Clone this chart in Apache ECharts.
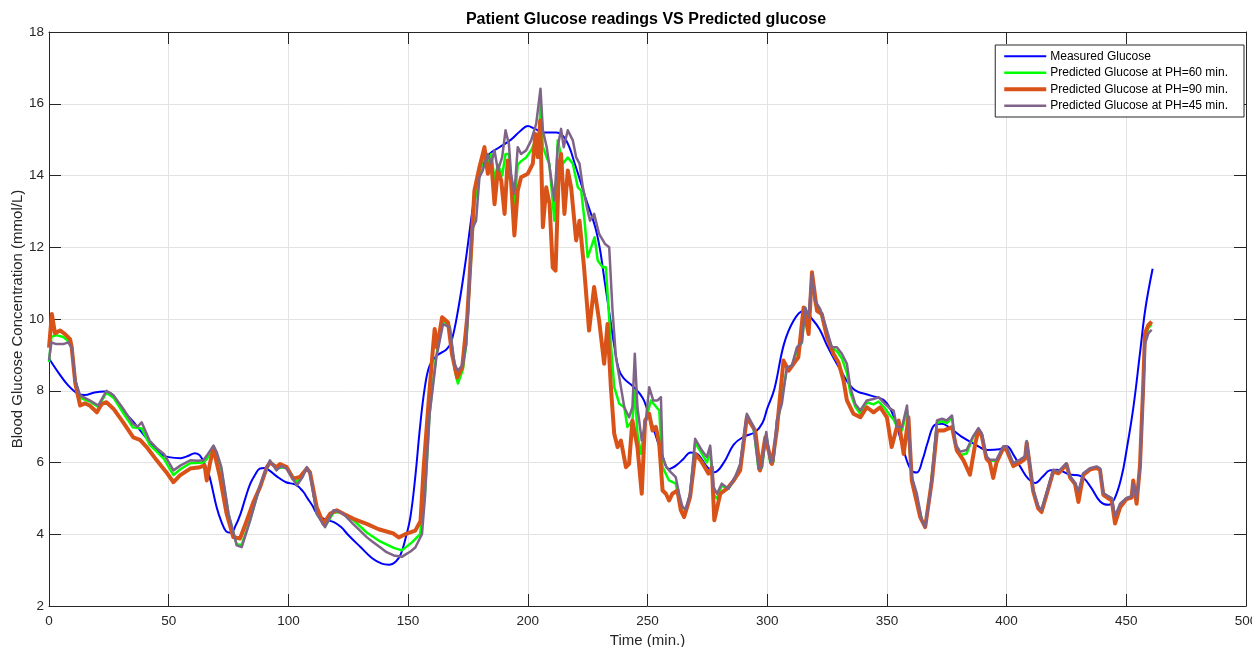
<!DOCTYPE html>
<html>
<head>
<meta charset="utf-8">
<title>Patient Glucose readings VS Predicted glucose</title>
<script src="https://cdn.jsdelivr.net/npm/echarts@6/dist/echarts.min.js"></script>
<style>
    html, body { margin: 0; padding: 0; background: #fff; overflow: hidden; }
    #main { width: 1252px; height: 647px; }
</style>
</head>
<body>
<div id="main"></div>
<script>
// [time (min.), glucose (mmol/L)]
var measured = [[0,8.9],[4,8.5],[8,8.15],[12,7.92],[15,7.88],[19,7.95],[23,7.98],[26,7.92],[29,7.65],[31,7.45],[35,7.15],[38,6.9],[41,6.65],[44,6.4],[47,6.22],[50,6.15],[55,6.12],[58,6.18],[61,6.26],[63,6.2],[65,5.95],[67,5.62],[70,4.76],[72,4.35],[74,4.08],[76,4.04],[78,4.25],[80,4.57],[82,5.0],[84,5.4],[86,5.65],[88,5.83],[90,5.85],[92,5.78],[95,5.62],[99,5.45],[103,5.38],[106,5.2],[108,5.0],[110,4.8],[112,4.57],[115,4.42],[119,4.34],[122,4.2],[125,3.98],[130,3.65],[135,3.33],[139,3.18],[142,3.15],[145,3.25],[147,3.45],[149,3.9],[151,4.5],[153,5.6],[155,7.0],[157,8.1],[159,8.7],[162,8.98],[166,9.15],[168,9.35],[171,10.3],[174,11.6],[177,13.1],[179,13.9],[181,14.3],[184,14.6],[188,14.78],[193,15.0],[197,15.25],[200,15.38],[203,15.3],[207,15.2],[212,15.2],[216,14.98],[220,14.25],[224,13.4],[228,12.6],[230,12.0],[232,11.1],[234,10.2],[236,9.3],[238,8.6],[240,8.35],[244,8.12],[248,7.8],[250,7.45],[252,7.05],[256,6.25],[259,5.82],[262,5.92],[265,6.1],[268,6.28],[271,6.23],[275,5.87],[278,5.73],[282,6.01],[286,6.5],[290,6.71],[295,6.85],[298,7.1],[300,7.5],[303,8.05],[307,9.3],[311,9.95],[315,10.22],[319,9.98],[322,9.7],[325,9.26],[330,8.65],[336,8.05],[343,7.87],[349,7.72],[353,7.25],[357,6.34],[360,5.8],[362.5,5.72],[365,6.1],[367,6.55],[370,7.05],[373,7.08],[376,6.98],[381,6.73],[387,6.5],[392,6.35],[397,6.37],[400,6.45],[403,6.2],[406,5.85],[409,5.55],[412,5.43],[415,5.6],[418,5.78],[421,5.8],[426,5.67],[431,5.62],[435,5.33],[439,4.92],[442.5,4.82],[445,4.98],[448,5.6],[450,6.3],[453,7.56],[455.7,9.04],[458,10.3],[461,11.4]];

var predicted60 = [[0,8.8],[1,9.5],[3,9.55],[6,9.5],[9.5,9.3],[11,8.28],[13,7.8],[17,7.7],[20.6,7.55],[24,7.95],[27,7.8],[31,7.38],[35,6.98],[38.7,6.95],[42,6.5],[45,6.3],[48,6.1],[52,5.65],[55,5.82],[59,5.98],[64.5,6.0],[66,6.1],[68.7,6.45],[72,5.8],[75,4.55],[78.4,3.72],[80.5,3.7],[84,4.4],[88,5.32],[92.3,6.03],[95,5.85],[99.3,5.87],[103.5,5.45],[107.7,5.85],[109,5.75],[111.8,4.6],[115.3,4.22],[118.8,4.6],[121.6,4.62],[127,4.4],[132.7,4.05],[138.3,3.8],[144,3.62],[147.4,3.55],[151.7,3.78],[155,4.0],[157,5.1],[159,7.4],[161.8,9.0],[164.6,9.95],[167.4,9.8],[169.4,8.6],[170.8,8.2],[172.9,8.6],[174.3,9.3],[175.6,10.9],[177.7,13.2],[179.8,14.0],[181.5,14.5],[183.3,14.3],[184.7,14.6],[186.1,13.9],[187.5,14.3],[189.3,14.0],[190.7,14.6],[192.1,14.6],[193,13.9],[194.4,13.2],[195.8,14.3],[197.2,14.4],[199.3,14.5],[201.4,14.7],[203.5,15.0],[204.5,14.6],[205.3,16.0],[206.3,14.8],[207.9,14.5],[209,14.33],[211.1,12.74],[212.5,14.98],[214.6,14.33],[216.7,14.5],[218.8,14.33],[220.9,13.67],[222.3,13.58],[223.7,12.74],[225,11.72],[227.9,12.28],[229.2,11.63],[231.3,11.44],[232.6,11.44],[234.7,9.31],[236.1,8.1],[238.2,7.64],[240.3,7.54],[241.6,6.99],[243.7,7.17],[244.7,8.0],[245.8,6.8],[247.2,6.24],[249.3,7.17],[251.4,7.73],[254.9,7.45],[256.3,5.87],[259,5.5],[261.8,5.41],[263.2,4.94],[266,4.6],[267.8,5.1],[269.9,6.55],[272.7,6.25],[274.8,6.0],[276.2,6.3],[277.6,5.1],[279,5.0],[281,5.35],[283.8,5.27],[286.6,5.55],[288.7,5.9],[291.5,7.3],[294.3,6.95],[296.4,5.8],[297.8,5.85],[299.6,6.8],[301.3,5.98],[302.6,6.02],[304,7.0],[306.1,7.8],[308.2,8.6],[310.3,8.7],[312.4,9.1],[314.5,9.35],[315.9,10.3],[317.3,9.9],[318.7,11.1],[320,10.4],[322.1,10.25],[324.2,9.7],[327,9.2],[329.1,9.1],[331.2,8.9],[333.3,8.5],[334.7,7.95],[336.8,7.55],[338.9,7.35],[341.6,7.68],[344.4,7.62],[346.5,7.7],[349.3,7.5],[351.4,7.3],[352.8,7.2],[354.2,7.0],[356.3,6.9],[358.4,7.45],[360.4,5.55],[362.5,5.0],[364.6,4.4],[366,4.22],[368.1,5.2],[369.5,6.1],[370.9,7.1],[373,7.15],[375,7.1],[377.2,7.25],[378.6,6.45],[380.6,6.2],[383.3,6.25],[386,6.7],[388.2,6.92],[389.6,6.8],[391.6,6.12],[393,6.05],[395.8,6.05],[398.6,6.4],[400,6.4],[402.8,5.95],[405.6,6.05],[407.7,6.12],[408.4,6.6],[409.7,5.95],[411.1,5.2],[413.2,4.75],[414.6,4.68],[416.7,5.15],[419.5,5.78],[421.6,5.72],[423.7,5.85],[425,5.95],[426.5,5.6],[428.6,5.4],[430,5.1],[432,5.68],[434.8,5.82],[437.6,5.87],[439,5.8],[440.4,5.15],[442.5,5.05],[443.9,5.0],[445.3,4.45],[447.4,4.8],[450.1,5.0],[452.2,5.05],[452.9,5.45],[454.3,4.95],[455.7,5.85],[457.1,8.1],[457.8,9.45],[459.2,9.75],[460.6,9.85]];

var predicted90 = [[0,9.2],[1.2,10.14],[2.5,9.6],[4.6,9.68],[6.7,9.58],[8.8,9.44],[9.5,9.2],[11,8.2],[13,7.59],[15,7.65],[17,7.59],[20,7.4],[22,7.63],[24,7.68],[26.9,7.5],[31,7.12],[35.2,6.7],[38,6.63],[40.8,6.43],[45,6.06],[49,5.73],[52,5.45],[54.7,5.64],[59,5.83],[63,5.87],[65,5.92],[65.9,5.5],[67.3,6.0],[68.7,6.38],[71.4,5.6],[74.2,4.57],[77,3.92],[79.8,3.88],[82.6,4.38],[85.4,4.9],[88.2,5.32],[91,5.87],[92.3,6.0],[95,5.87],[96.5,5.96],[99.3,5.87],[102,5.55],[104.9,5.6],[107.7,5.83],[109,5.73],[111.8,4.76],[114.6,4.29],[117.4,4.57],[120.2,4.67],[123,4.57],[127.2,4.43],[132.7,4.29],[137.7,4.14],[143.9,4.02],[146.1,3.91],[149.4,4.02],[153,4.1],[155.2,4.37],[156.5,5.86],[158.6,7.72],[160.3,9.12],[161.1,9.72],[162.1,9.2],[164.2,10.05],[166.7,9.9],[168.4,9.0],[170.5,8.37],[172.6,8.65],[174.7,10.05],[175.6,11.07],[177.7,13.58],[179.8,14.23],[181.9,14.79],[183.3,14.05],[184.7,14.42],[186.1,13.2],[187.5,14.14],[188.9,13.86],[190.3,12.93],[191.6,14.42],[193,13.86],[194.4,12.33],[195.8,13.58],[197.2,13.95],[200,14.05],[202.1,14.33],[203.2,15.16],[204.2,14.51],[205.2,15.53],[206.3,12.56],[207.7,13.67],[209.1,13.2],[210.4,11.44],[211.6,11.35],[213,14.23],[213.9,14.6],[215.3,12.93],[216.7,14.14],[218.1,13.67],[220.2,12.19],[221.6,12.74],[223.5,11.44],[225.6,9.68],[227.7,10.89],[229.8,9.96],[231.9,8.75],[233.3,9.86],[234.7,8.1],[236.1,6.8],[237.5,6.43],[238.9,6.61],[241,5.87],[242.3,5.96],[243.7,7.17],[245.8,6.43],[247.6,5.13],[249,7.17],[250.7,7.36],[252.1,6.89],[253.5,6.99],[254.9,6.52],[256.3,5.22],[257.7,5.13],[259,4.94],[260.4,5.13],[262.5,5.22],[263.9,4.67],[265.3,4.48],[267.8,5.04],[270,6.24],[272.7,6.01],[275.5,5.69],[276.9,5.87],[277.9,4.39],[280.4,5.13],[283.2,5.27],[286,5.5],[288.7,5.78],[291.5,7.26],[295,6.89],[297,5.78],[299.2,6.7],[302,5.96],[304,6.89],[306.8,8.84],[309,8.56],[311,8.75],[313,8.93],[315.2,10.32],[317.3,9.58],[318.7,11.3],[320.8,10.23],[322.8,10.14],[325,9.49],[327.7,9.03],[329.8,8.79],[331.9,8.28],[333.3,7.73],[336,7.36],[338.9,7.26],[341.6,7.54],[344.4,7.4],[347.2,7.54],[350,7.26],[352,6.43],[354.9,7.17],[357,6.24],[359,7.26],[360.4,5.5],[363.9,4.48],[366,4.2],[368.8,5.5],[370.9,6.89],[373.7,6.89],[377.2,6.99],[379.2,6.34],[382,6.06],[384.7,5.66],[386.9,6.52],[388.2,6.9],[389.6,6.75],[391.6,6.1],[393,6.0],[394.4,5.57],[395.8,6.0],[398.6,6.4],[400,6.35],[402.8,5.9],[405.6,6.0],[407.7,6.1],[408.4,6.55],[409.7,5.9],[411.1,5.2],[413.2,4.72],[414.6,4.62],[416.7,5.1],[419.5,5.75],[421.6,5.7],[423.7,5.85],[425,5.95],[426.5,5.58],[428.6,5.4],[430,4.9],[432,5.65],[434.8,5.8],[437.6,5.85],[439,5.8],[440.4,5.1],[442.5,5.0],[443.9,4.95],[445.3,4.3],[447.4,4.75],[450.1,4.98],[452.2,5.02],[452.9,5.5],[454.3,4.85],[455.7,5.9],[457.1,8.2],[457.8,9.6],[459.2,9.83],[460.6,9.93]];

var predicted45 = [[0,8.85],[1,9.35],[3,9.3],[6,9.3],[8,9.35],[9.5,9.2],[11,8.28],[13,7.87],[17,7.73],[20.6,7.59],[24,8.0],[27,7.87],[31,7.5],[35,7.08],[37,7.0],[38.7,7.12],[42,6.61],[45,6.4],[48,6.24],[52,5.78],[55,5.92],[59,6.06],[62,6.05],[64.5,6.06],[66,6.2],[68.7,6.47],[70,6.3],[72,5.87],[75,4.57],[78.4,3.69],[80.5,3.64],[84,4.38],[88,5.32],[90,5.7],[92.3,6.06],[95,5.78],[97,5.9],[99.3,5.83],[103.5,5.36],[106,5.6],[107.7,5.87],[109,5.7],[111.8,4.57],[115.3,4.2],[118.8,4.67],[121.6,4.62],[124,4.5],[127,4.29],[132.7,3.92],[135,3.8],[138.3,3.64],[141,3.5],[144,3.41],[147.4,3.37],[149,3.44],[151,3.52],[153,3.63],[155.8,4.0],[157,5.0],[159,7.35],[161.8,8.93],[164.6,9.86],[167.4,9.77],[169.4,8.74],[170.8,8.56],[172.9,8.74],[174.3,9.3],[175.6,10.9],[176.5,12.47],[178.4,12.74],[179.8,13.95],[181.2,14.14],[183.3,14.6],[184.7,14.33],[186.1,14.7],[187.5,14.14],[189.3,14.51],[190.7,15.26],[192.1,14.88],[193,14.05],[194.4,13.49],[195.8,14.79],[197.2,14.6],[199.3,14.7],[201.4,14.98],[203.5,15.44],[205.3,16.42],[206.3,15.26],[207.9,14.79],[209.7,13.95],[211.1,13.3],[212.5,14.79],[213.9,15.3],[215,14.79],[216.7,15.26],[218.8,14.98],[220.2,14.51],[221.6,14.33],[223,13.67],[225,13.02],[226,12.74],[227.7,12.93],[229.8,12.37],[232.3,12.09],[234,12.0],[235.4,10.23],[236.8,8.94],[238.9,8.1],[240.3,7.54],[242.3,7.26],[243.7,7.54],[244.7,9.03],[245.8,7.54],[247.6,6.61],[249.3,7.17],[250.7,8.1],[252.4,7.73],[254.2,7.73],[255.6,7.82],[256.3,6.15],[257.9,5.87],[259.7,5.73],[261.8,5.59],[263.2,5.13],[264.6,4.76],[266,4.7],[267.8,5.13],[269.9,6.66],[272.7,6.34],[274.8,6.15],[276.2,6.47],[277.6,5.32],[279,5.13],[281,5.41],[283.8,5.27],[286.6,5.6],[288.7,5.96],[291.5,7.36],[294.3,7.0],[296.4,5.83],[297.8,5.87],[299.6,6.85],[301.3,6.01],[302.6,6.06],[304,7.17],[306.1,7.63],[308.2,8.65],[310.3,8.7],[312.4,9.21],[314.5,9.35],[315.9,10.32],[317.3,10.05],[318.7,11.25],[320,10.51],[322.1,10.28],[324.2,9.86],[327,9.21],[329.1,9.21],[331.2,9.03],[333.3,8.75],[334.7,8.1],[336.8,7.63],[338.9,7.45],[341.6,7.73],[344.4,7.77],[346.5,7.82],[349.3,7.63],[351.4,7.5],[352.8,7.45],[354.2,6.99],[356.3,6.99],[358.4,7.59],[360.4,5.6],[362.5,5.13],[364.6,4.39],[366,4.2],[368.1,5.13],[369.5,6.06],[370.9,7.17],[373,7.22],[375,7.17],[377.2,7.31],[378.6,6.52],[380.6,6.3],[383.3,6.35],[386,6.73],[388.2,6.96],[389.6,6.82],[391.6,6.17],[393,6.08],[395.8,6.08],[398.6,6.45],[400,6.45],[402.8,5.98],[405.6,6.08],[407.7,6.17],[408.4,6.59],[409.7,5.98],[411.1,5.24],[413.2,4.78],[414.6,4.68],[416.7,5.15],[419.5,5.8],[421.6,5.75],[423.7,5.89],[425,5.98],[426.5,5.61],[428.6,5.43],[430,5.2],[432,5.7],[434.8,5.84],[437.6,5.89],[439,5.84],[440.4,5.15],[442.5,5.06],[443.9,5.01],[445.3,4.5],[447.4,4.85],[450.1,5.01],[452.2,5.06],[452.9,5.4],[454.3,5.0],[455.7,5.8],[457.1,8.0],[457.8,9.3],[459.2,9.6],[460.6,9.7]];

var seriesNames = ['Measured Glucose', 'Predicted Glucose at PH=60 min.', 'Predicted Glucose at PH=90 min.', 'Predicted Glucose at PH=45 min.'];
var seriesColors = ['#0000ff', '#00ff00', '#d95319', '#7f6488'];
var seriesWidths = [2, 2.5, 4, 2.5];

var axisColor = '#262626';
var gridColor = '#e3e3e3';
var font = '"Liberation Sans", Arial, sans-serif';

var chart = echarts.init(document.getElementById('main'));

// the box: bottom/left axes carry labels, top/right only ticks
function xAx(pos, show) {
    return {
        type: 'value', position: pos, min: 0, max: 500, interval: 50,
        name: show ? 'Time (min.)' : '', nameLocation: 'middle', nameGap: 26,
        nameTextStyle: { color: axisColor, fontSize: 15, fontFamily: font },
        axisLine: { show: true, onZero: false, lineStyle: { color: axisColor, width: 1 } },
        axisTick: { show: true, inside: true, length: 12, lineStyle: { color: axisColor } },
        axisLabel: { show: show, color: axisColor, fontSize: 13.5, fontFamily: font, margin: 8 },
        splitLine: { show: show, lineStyle: { color: gridColor, width: 1 } }
    };
}
function yAx(pos, show) {
    return {
        type: 'value', position: pos, min: 2, max: 18, interval: 2,
        name: show ? 'Blood Glucose Concentration (mmol/L)' : '', nameLocation: 'middle', nameGap: 24,
        nameMoveOverlap: false,
        nameTextStyle: { color: axisColor, fontSize: 15, fontFamily: font },
        axisLine: { show: true, onZero: false, lineStyle: { color: axisColor, width: 1 } },
        axisTick: { show: true, inside: true, length: 12, lineStyle: { color: axisColor } },
        axisLabel: { show: show, color: axisColor, fontSize: 13.5, fontFamily: font, margin: 5 },
        splitLine: { show: show, lineStyle: { color: gridColor, width: 1 } }
    };
}

function line(i, data, smooth) {
    return {
        name: seriesNames[i], type: 'line', data: data, smooth: smooth,
        symbol: 'none', showSymbol: false,
        lineStyle: { color: seriesColors[i], width: seriesWidths[i], join: 'round' },
        itemStyle: { color: seriesColors[i] }
    };
}

var legendItems = seriesNames.map(function (n, i) {
    return { name: n, lineStyle: { color: seriesColors[i], width: seriesWidths[i] } };
});

var option = {
    animation: false,
    backgroundColor: '#fff',
    title: {
        text: 'Patient Glucose readings VS Predicted glucose',
        left: 641, top: 7, textAlign: 'center',
        textStyle: { color: '#000', fontSize: 16, fontWeight: 'bold', fontFamily: font }
    },
    grid: { left: 49, right: 6, top: 32, bottom: 41, containLabel: false, outerBoundsMode: 'none' },
    legend: {
        orient: 'vertical', right: 8, top: 45,
        data: legendItems,
        itemWidth: 42, itemHeight: 14, itemGap: 2,
        padding: [4, 16, 4, 7],
        backgroundColor: '#fff', borderColor: axisColor, borderWidth: 1,
        itemStyle: { opacity: 0 },
        textStyle: { color: '#000', fontSize: 12, fontFamily: font, lineHeight: 14.5, padding: [0, 0, 0, -1] }
    },
    xAxis: [xAx('bottom', true), xAx('top', false)],
    yAxis: [yAx('left', true), yAx('right', false)],
    series: [
        line(0, measured, 0.4),
        line(1, predicted60, false),
        line(2, predicted90, false),
        line(3, predicted45, false)
    ]
};
chart.setOption(option);
</script>
</body>
</html>
